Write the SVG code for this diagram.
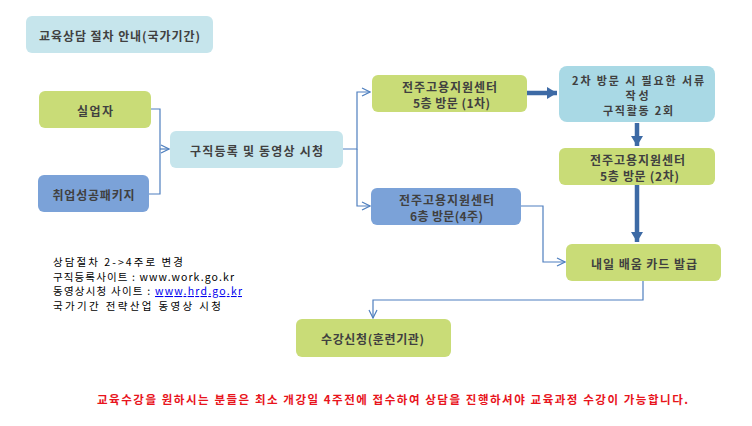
<svg xmlns="http://www.w3.org/2000/svg" width="752" height="426" viewBox="0 0 752 426">
<defs>
<style>
.n{font-family:"Noto Sans CJK KR","Noto Sans",sans-serif;font-size:12px;font-weight:bold;fill:#404040;text-anchor:middle;dominant-baseline:central}
.s{font-size:11px}
.g{fill:#c9dc77}
.b{fill:#7ba2d8}
.l{fill:#c6e5ec}
.c{fill:#a9d9e5}
.thin{fill:none;stroke:#4f7fbf;stroke-width:1.2}
.thick{fill:none;stroke:#3d6aa5;stroke-width:4.5}
.note{font-family:"Noto Sans CJK KR","Noto Sans",sans-serif;font-size:10.5px;fill:#000}
.red{font-family:"Noto Sans CJK KR","Noto Sans",sans-serif;font-size:11.5px;font-weight:bold;fill:#e8141c}
</style>
<marker id="open" markerWidth="10" markerHeight="10" refX="9" refY="5" orient="auto" markerUnits="userSpaceOnUse">
<path d="M1,1 L9,5 L1,9" fill="none" stroke="#4f7fbf" stroke-width="1.2"/>
</marker>
<marker id="solid" markerWidth="12" markerHeight="12" refX="10" refY="6" orient="auto" markerUnits="userSpaceOnUse">
<path d="M0,0 L10,6 L0,12 Z" fill="#3d6aa5"/>
</marker>
</defs>
<rect width="752" height="426" fill="#fff"/>
<g id="connectors">
<path class="thin" d="M151,109 H160 V194 H149"/>
<path class="thin" d="M160,149 H169" marker-end="url(#open)"/>
<path class="thin" d="M343,149 H357 V92 H370" marker-end="url(#open)"/>
<path class="thin" d="M357,149 V206 H370" marker-end="url(#open)"/>
<path class="thin" d="M521,206 H543 V262 H565" marker-end="url(#open)"/>
<path class="thin" d="M643,281 V300 H373 V318" marker-end="url(#open)"/>
<path class="thick" d="M527,93 H557" marker-end="url(#solid)"/>
<path class="thick" d="M637,123 V146" marker-end="url(#solid)"/>
<path class="thick" d="M637,185 V242" marker-end="url(#solid)"/>
</g>
<g id="title"><rect class="l" x="26" y="16" width="187" height="37" rx="6"/><text class="n" x="119.5" y="35" textLength="161" lengthAdjust="spacing">교육상담 절차 안내(국가기간)</text></g>
<g id="unemployed"><rect class="g" x="39" y="91" width="112" height="37" rx="6"/><text class="n" x="95" y="110" textLength="36" lengthAdjust="spacing">실업자</text></g>
<g id="package"><rect class="b" x="38" y="175" width="111" height="37" rx="6"/><text class="n" x="93.5" y="194" textLength="82" lengthAdjust="spacing">취업성공패키지</text></g>
<g id="register"><rect class="l" x="170" y="131" width="173" height="37" rx="6"/><text class="n" x="256.5" y="150" textLength="133" lengthAdjust="spacing">구직등록 및 동영상 시청</text></g>
<g id="visit1"><rect class="g" x="372" y="75" width="155" height="37" rx="6"/><text class="n" x="449.5" y="86" textLength="95" lengthAdjust="spacing">전주고용지원센터</text><text class="n" x="451.5" y="102" textLength="77" lengthAdjust="spacing">5층 방문 (1차)</text></g>
<g id="docs"><rect class="c" x="559" y="66" width="156" height="56" rx="8"/><text class="n s" x="638" y="80" textLength="132" lengthAdjust="spacing">2차 방문 시 필요한 서류</text><text class="n s" x="637" y="95" textLength="23" lengthAdjust="spacing">작성</text><text class="n s" x="638" y="110" textLength="70" lengthAdjust="spacing">구직활동 2회</text></g>
<g id="visit2"><rect class="g" x="559" y="148" width="156" height="37" rx="6"/><text class="n" x="637.5" y="159" textLength="95" lengthAdjust="spacing">전주고용지원센터</text><text class="n" x="639.5" y="175" textLength="79" lengthAdjust="spacing">5층 방문 (2차)</text></g>
<g id="visit6"><rect class="b" x="371" y="188" width="150" height="37" rx="6"/><text class="n" x="446.5" y="199" textLength="95" lengthAdjust="spacing">전주고용지원센터</text><text class="n" x="446.5" y="215" textLength="73" lengthAdjust="spacing">6층 방문(4주)</text></g>
<g id="card"><rect class="g" x="566" y="244" width="155" height="37" rx="6"/><text class="n" x="644" y="263" textLength="106" lengthAdjust="spacing">내일 배움 카드 발급</text></g>
<g id="apply"><rect class="g" x="296" y="319" width="155" height="38" rx="6"/><text class="n" x="372.5" y="338" textLength="103" lengthAdjust="spacing">수강신청(훈련기관)</text></g>
<g id="notes">
<text class="note" x="53" y="266" textLength="130" lengthAdjust="spacing">상담절차 2-&gt;4주로 변경</text>
<text class="note" x="53" y="280.5" textLength="181" lengthAdjust="spacing">구직등록사이트 : www.work.go.kr</text>
<text class="note" x="53" y="295" textLength="189" lengthAdjust="spacing">동영상시청 사이트 : <tspan fill="#0000ee" text-decoration="underline">www.hrd.go.kr</tspan></text>
<text class="note" x="53" y="309.5" textLength="168" lengthAdjust="spacing">국가기간 전략산업 동영상 시청</text>
</g>
<text class="red" x="97" y="404" textLength="591" lengthAdjust="spacing">교육수강을 원하시는 분들은 최소 개강일 4주전에 접수하여 상담을 진행하셔야 교육과정 수강이 가능합니다.</text>
</svg>
